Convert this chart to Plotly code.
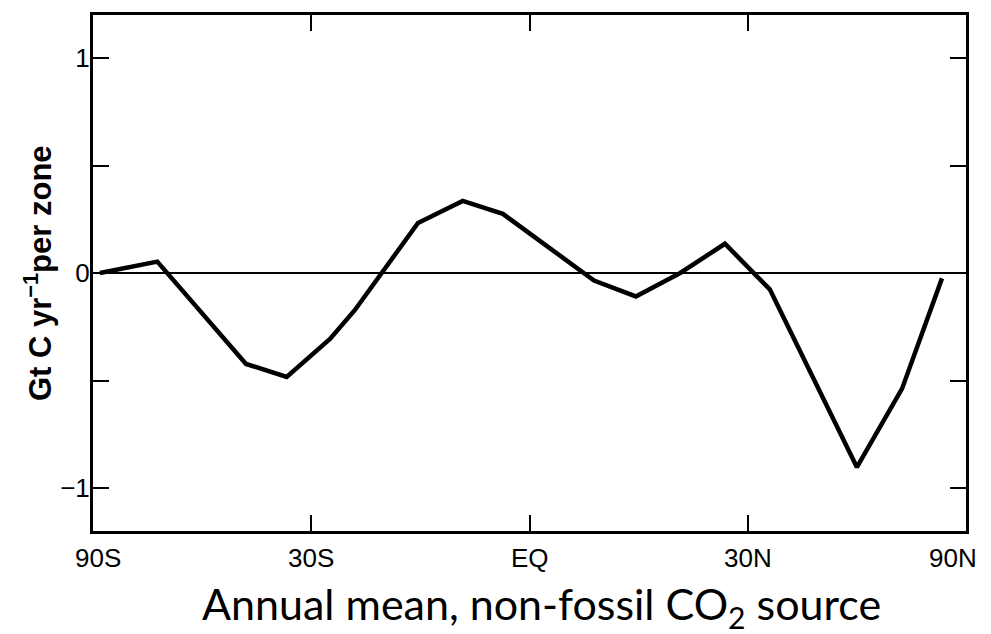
import numpy as np
import plotly.graph_objects as go

# Latitude (degrees) of each vertex of the curve and the source value (Gt C / yr per zone)
latitude = [-79.8, -58.5, -40.5, -33.8, -27.2, -23.6, -14.8, -8.8, -3.5,
            8.5, 14.1, 20.2, 26.6, 33.4, 48.6, 58.6, 70.9]
source = [0.00, 0.053, -0.423, -0.483, -0.307, -0.173, 0.233, 0.335, 0.275,
          -0.035, -0.109, 0.00, 0.136, -0.076, -0.903, -0.538, -0.025]

x_tick_lat = [-90, -30, 0, 30, 90]
x_tick_text = ["90S", "30S", "EQ", "30N", "90N"]
x_label_shift = [5, 0, 0, 0, -13]
y_tick_vals = [-1, 0, 1]
y_tick_text = ["\u22121", "0", "1"]
y_minor_vals = [-0.5, 0.5]

x = np.sin(np.radians(latitude))
xt = np.sin(np.radians(x_tick_lat))

fig = go.Figure()
fig.add_trace(go.Scatter(x=x, y=source, mode="lines",
                         line=dict(color="black", width=4.5),
                         showlegend=False, hoverinfo="skip"))

axis_font = dict(family="Liberation Sans, Arial, sans-serif", size=26, color="black")

fig.update_layout(
    width=991, height=634,
    margin=dict(l=93, r=25, t=13, b=103),
    paper_bgcolor="white", plot_bgcolor="white",
    xaxis=dict(range=[-1, 1], tickvals=list(xt), showticklabels=False,
               ticks="inside", ticklen=16, tickwidth=2, tickcolor="black",
               showline=True, linewidth=3, linecolor="black", mirror="ticks",
               showgrid=False, zeroline=False),
    yaxis=dict(range=[-1.2, 1.2], tickvals=y_tick_vals, ticktext=y_tick_text,
               ticks="inside", ticklen=16, tickwidth=2, tickcolor="black",
               minor=dict(tickvals=y_minor_vals, ticks="inside", ticklen=16,
                          tickwidth=2, tickcolor="black", showgrid=False),
               showline=True, linewidth=3, linecolor="black", mirror="ticks",
               showgrid=False, zeroline=True, zerolinecolor="black", zerolinewidth=2,
               tickfont=axis_font, ticklabelstandoff=-5),
)

for xv, txt, sh in zip(xt, x_tick_text, x_label_shift):
    fig.add_annotation(text=txt, xref="x", yref="paper", x=xv, y=0,
                       xshift=sh, yshift=-10, showarrow=False,
                       xanchor="center", yanchor="top", font=axis_font)

fig.add_annotation(
    text="<b>Gt C yr<sup>\u22121</sup>per zone</b>",
    xref="paper", yref="paper", x=0, y=0.5, xshift=-55, textangle=-90,
    showarrow=False, xanchor="center", yanchor="middle",
    font=dict(family="Liberation Sans, Arial, sans-serif", size=31, color="black"))

fig.add_annotation(
    text="Annual mean, non-fossil CO<sub>2</sub> source",
    xref="paper", yref="paper", x=0.514, y=0, yshift=-45,
    showarrow=False, xanchor="center", yanchor="top",
    font=dict(family="Lato, Open Sans, sans-serif", size=43, color="black"))

fig.write_html("out.html")
